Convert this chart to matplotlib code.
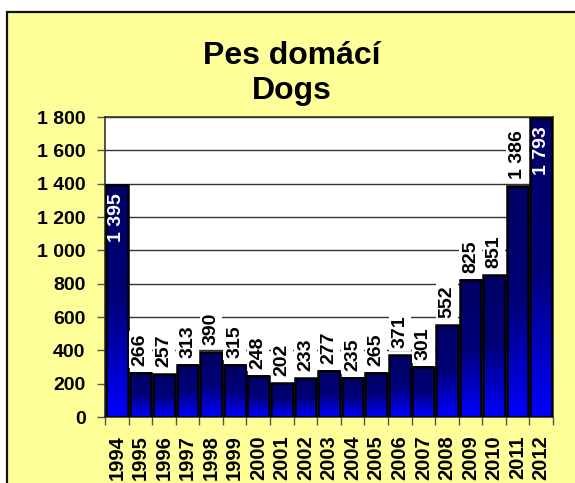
import numpy as np
import matplotlib
matplotlib.use("Agg")
import matplotlib.pyplot as plt
from matplotlib.colors import LinearSegmentedColormap
from matplotlib.patches import Rectangle
from matplotlib.ticker import FuncFormatter

plt.rcParams['font.family'] = ['Liberation Sans', 'DejaVu Sans']
plt.rcParams['font.weight'] = 'bold'

years = ["1994", "1995", "1996", "1997", "1998", "1999", "2000", "2001", "2002", "2003",
         "2004", "2005", "2006", "2007", "2008", "2009", "2010", "2011", "2012"]
dogs = [1395, 266, 257, 313, 390, 315, 248, 202, 233, 277,
        235, 265, 371, 301, 552, 825, 851, 1386, 1793]
inside_labels = {"1994", "2012"}

fig = plt.figure(figsize=(5.75, 4.83), dpi=100)
fig.patch.set_facecolor('white')

# yellow chart frame
frame = Rectangle((7 / 575, -0.05), 1.1, 1 - 12 / 483 + 0.05, transform=fig.transFigure,
                  facecolor='#FFFF99', edgecolor='#111111', linewidth=1.6, zorder=-10)
fig.patches.append(frame)

fig.text(0.508, 1 - 64 / 483, "Pes domácí", ha='center', va='baseline',
         fontsize=23, fontweight='bold')
fig.text(0.508, 1 - 99 / 483, "Dogs", ha='center', va='baseline',
         fontsize=23, fontweight='bold')

ax = fig.add_axes([105 / 575, 1 - 417 / 483, (553 - 105) / 575, (417 - 117) / 483])
ax.set_facecolor('white')
ax.set_zorder(1)

n = len(years)
x = np.arange(n)
width = 0.92

cmap = LinearSegmentedColormap.from_list('bar', ['#0000FF', '#000078', '#000066'])
grad = np.linspace(0, 1, 256).reshape(-1, 1)

bars = ax.bar(x, dogs, width=width, color='none', edgecolor='black', linewidth=1.8, zorder=3)
for rect in bars:
    x0, y0 = rect.get_x(), rect.get_y()
    w, h = rect.get_width(), rect.get_height()
    ax.imshow(grad, cmap=cmap, aspect='auto', origin='lower',
              extent=[x0, x0 + w, y0, y0 + h], zorder=2, interpolation='bilinear')
ax.set_xlim(-0.5, n - 0.5)
ax.set_ylim(0, 1800)


def fmt(v):
    return f"{int(v):,}".replace(",", " ")


for xi, yr, v in zip(x, years, dogs):
    if yr in inside_labels:
        ax.annotate(fmt(v), (xi, v), xytext=(0, -6), textcoords='offset points',
                    rotation=90, ha='center', va='top', color='white',
                    fontsize=14, fontweight='bold', zorder=5)
    else:
        ax.annotate(fmt(v), (xi, v), xytext=(0, 5), textcoords='offset points',
                    rotation=90, ha='center', va='bottom', color='black',
                    fontsize=14, fontweight='bold', zorder=5,
                    bbox=dict(facecolor='white', edgecolor='none', pad=2))

ax.set_yticks(np.arange(0, 1801, 200))
ax.yaxis.set_major_formatter(FuncFormatter(lambda v, p: fmt(v)))
ax.grid(axis='y', color='#333333', linewidth=1.0, zorder=1)
ax.set_axisbelow(True)

ax.set_xticks(x)
ax.set_xticklabels(years, rotation=90)
ax.set_xticks(np.arange(-0.5, n, 1), minor=True)
ax.tick_params(axis='x', which='major', length=0, pad=13, labelsize=14.5)
ax.tick_params(axis='x', which='minor', length=6, width=1, color='#555555', direction='out')
ax.tick_params(axis='y', length=6, width=1, color='#555555', pad=8, labelsize=14)
for lbl in ax.get_xticklabels() + ax.get_yticklabels():
    lbl.set_fontweight('bold')

for s in ax.spines.values():
    s.set_color('#333333')
    s.set_linewidth(1.2)

fig.savefig("out.png", dpi=100, facecolor=fig.get_facecolor())
